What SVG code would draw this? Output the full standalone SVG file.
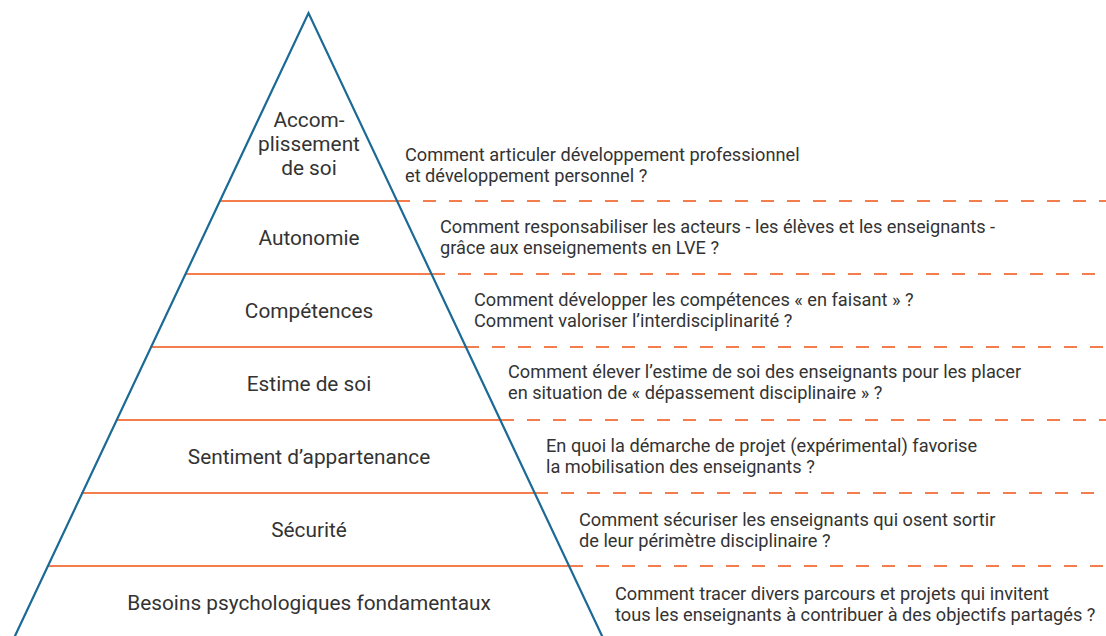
<svg xmlns="http://www.w3.org/2000/svg" width="1106" height="636" viewBox="0 0 1106 636">
<style>
.lbl{font-family:Roboto,"Liberation Sans",sans-serif;font-size:20.8px;fill:#333;text-anchor:middle}
.q{font-family:Roboto,"Liberation Sans",sans-serif;font-size:18.2px;fill:#333}
.solid{stroke:#f47d4e;stroke-width:2;fill:none}
.dash{stroke:#f47d4e;stroke-width:2;fill:none;stroke-dasharray:13 13}
.tri{stroke:#1b6a96;stroke-width:2.2;fill:none}
</style>
<rect width="1106" height="636" fill="#fff"/>
<g id="connectors">
<line class="solid" x1="219" y1="201" x2="397" y2="201"/>
<line class="dash" x1="397" y1="201" x2="1106" y2="201"/>
<line class="solid" x1="185" y1="274" x2="432" y2="274"/>
<line class="dash" x1="432" y1="274" x2="1106" y2="274"/>
<line class="solid" x1="150" y1="347" x2="466" y2="347"/>
<line class="dash" x1="466" y1="347" x2="1106" y2="347"/>
<line class="solid" x1="116" y1="420" x2="501" y2="420"/>
<line class="dash" x1="501" y1="420" x2="1106" y2="420"/>
<line class="solid" x1="81" y1="493" x2="535" y2="493"/>
<line class="dash" x1="535" y1="493" x2="1106" y2="493"/>
<line class="solid" x1="47" y1="566" x2="570" y2="566"/>
<line class="dash" x1="570" y1="566" x2="1106" y2="566"/>
</g>
<g id="pyramid">
<polyline class="tri" points="14,638 308.5,13 603,638"/>
</g>
<g id="n1">
<text class="lbl" x="309" y="127">Accom-</text>
<text class="lbl" x="309" y="151">plissement</text>
<text class="lbl" x="309" y="175">de soi</text>
<text class="q" x="405" y="161">Comment articuler développement professionnel</text>
<text class="q" x="405" y="182">et développement personnel ?</text>
</g>
<g id="n2">
<text class="lbl" x="309" y="245">Autonomie</text>
<text class="q" x="440" y="233">Comment responsabiliser les acteurs - les élèves et les enseignants -</text>
<text class="q" x="440" y="254">grâce aux enseignements en LVE ?</text>
</g>
<g id="n3">
<text class="lbl" x="309" y="318">Compétences</text>
<text class="q" x="474" y="306">Comment développer les compétences « en faisant » ?</text>
<text class="q" x="474" y="327">Comment valoriser l’interdisciplinarité ?</text>
</g>
<g id="n4">
<text class="lbl" x="309" y="391">Estime de soi</text>
<text class="q" x="508" y="378">Comment élever l’estime de soi des enseignants pour les placer</text>
<text class="q" x="508" y="399">en situation de « dépassement disciplinaire » ?</text>
</g>
<g id="n5">
<text class="lbl" x="309" y="464">Sentiment d’appartenance</text>
<text class="q" x="546" y="452">En quoi la démarche de projet (expérimental) favorise</text>
<text class="q" x="546" y="473">la mobilisation des enseignants ?</text>
</g>
<g id="n6">
<text class="lbl" x="309" y="537">Sécurité</text>
<text class="q" x="579" y="526">Comment sécuriser les enseignants qui osent sortir</text>
<text class="q" x="579" y="547">de leur périmètre disciplinaire ?</text>
</g>
<g id="n7">
<text class="lbl" x="309" y="610">Besoins psychologiques fondamentaux</text>
<text class="q" x="615" y="600">Comment tracer divers parcours et projets qui invitent</text>
<text class="q" x="615" y="621">tous les enseignants à contribuer à des objectifs partagés ?</text>
</g>
</svg>
